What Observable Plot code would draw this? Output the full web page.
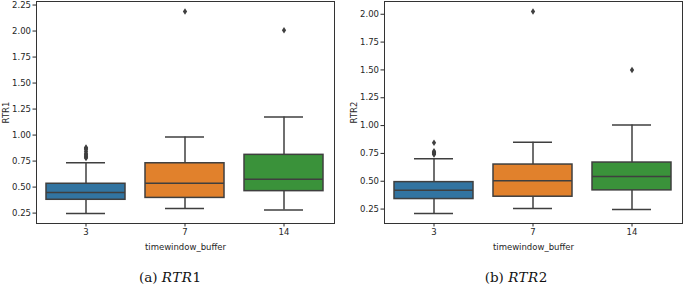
<!DOCTYPE html>
<html>
<head>
<meta charset="utf-8">
<script src="https://cdn.jsdelivr.net/npm/d3@7"></script>
<script src="https://cdn.jsdelivr.net/npm/@observablehq/plot@0.6"></script>
<style>
  html, body { margin: 0; padding: 0; background: #fff; }
  #wrap { position: relative; width: 685px; height: 284px; }
  #panels { display: flex; }
  .cap { position: absolute; top: 269px; font-family: "DejaVu Serif", serif; font-size: 13.5px; color: #111; white-space: nowrap; transform: translateX(-50%); line-height: 16px; }
  .cap i { letter-spacing: 0.5px; }
</style>
</head>
<body>
<div id="wrap">
  <div id="panels"></div>
  <div class="cap" style="left:170px">(a) <i>RTR</i>1</div>
  <div class="cap" style="left:516px">(b) <i>RTR</i>2</div>
</div>
<script>
// ---- data ----
const categories = ["3", "7", "14"];

// RTR1 (left panel)
const rtr1Low    = [0.247, 0.295, 0.279];
const rtr1Q1     = [0.378, 0.396, 0.461];
const rtr1Median = [0.447, 0.538, 0.576];
const rtr1Q3     = [0.532, 0.729, 0.810];
const rtr1High   = [0.733, 0.982, 1.174];
const rtr1OutlierCat = ["3", "3", "3", "3", "3", "3", "3", "3", "3", "7", "14"];
const rtr1OutlierVal = [0.78, 0.79, 0.80, 0.81, 0.82, 0.84, 0.86, 0.87, 0.88, 2.187, 2.008];
const rtr1Ticks = [0.25, 0.5, 0.75, 1.0, 1.25, 1.5, 1.75, 2.0, 2.25];

// RTR2 (right panel)
const rtr2Low    = [0.211, 0.256, 0.247];
const rtr2Q1     = [0.340, 0.361, 0.418];
const rtr2Median = [0.418, 0.504, 0.543];
const rtr2Q3     = [0.492, 0.650, 0.668];
const rtr2High   = [0.702, 0.850, 1.006];
const rtr2OutlierCat = ["3", "3", "3", "3", "3", "3", "7", "14"];
const rtr2OutlierVal = [0.74, 0.75, 0.755, 0.76, 0.77, 0.846, 2.024, 1.499];
const rtr2Ticks = [0.25, 0.5, 0.75, 1.0, 1.25, 1.5, 1.75, 2.0];

const xLabel = "timewindow_buffer";

// ---- styles ----
const palette = ["#3274a1", "#e1812c", "#3a923a"];
const gray = "#3f3f3f";

const thinDiamond = {
  draw(context, size) {
    const r = Math.sqrt(size / Math.PI);
    context.moveTo(0, -r * 1.3);
    context.lineTo(r * 0.85, 0);
    context.lineTo(0, r * 1.3);
    context.lineTo(-r * 0.85, 0);
    context.closePath();
  }
};

function panel({width, marginLeft, marginRight, yLabel, labelOffset, low, q1, median, q3, high, outCat, outVal, ticks}) {
  const rows = categories.map((c, i) => ({cat: c, low: low[i], q1: q1[i], median: median[i], q3: q3[i], high: high[i]}));
  const outs = outCat.map((c, i) => ({cat: c, v: outVal[i]}));
  const all = [...low, ...high, ...outVal];
  const mn = d3.min(all), mx = d3.max(all), pad = (mx - mn) * 0.05;
  return Plot.plot({
    width, height: 256,
    marginLeft, marginRight, marginTop: 1, marginBottom: 33,
    style: {fontFamily: "DejaVu Sans", fontSize: "8.5px", color: "#262626", background: "white", overflow: "visible"},
    x: {type: "band", domain: categories, paddingInner: 0.2, paddingOuter: 0.1},
    y: {domain: [mn - pad, mx + pad]},
    color: {domain: categories, range: palette},
    marks: [
      Plot.ruleX(rows, {x: "cat", y1: "q3", y2: "high", stroke: gray, strokeWidth: 1.5}),
      Plot.ruleX(rows, {x: "cat", y1: "low", y2: "q1", stroke: gray, strokeWidth: 1.5}),
      Plot.barY(rows, {x: "cat", y1: "q1", y2: "q3", fill: "cat", stroke: gray, strokeWidth: 1.5}),
      Plot.tickY(rows, {x: "cat", y: "median", stroke: gray, strokeWidth: 1.5}),
      Plot.tickY(rows, {x: "cat", y: "high", stroke: gray, strokeWidth: 1.5, inset: 20}),
      Plot.tickY(rows, {x: "cat", y: "low", stroke: gray, strokeWidth: 1.5, inset: 20}),
      Plot.dot(outs, {x: "cat", y: "v", r: 2.5, symbol: thinDiamond, fill: gray, stroke: "none"}),
      Plot.frame({stroke: "#333", strokeWidth: 1}),
      Plot.axisY({ticks, tickFormat: d3.format(".2f"), tickSize: 3.5, tickPadding: 2, label: yLabel, labelAnchor: "center", labelArrow: "none", labelOffset}),
      Plot.axisX({tickSize: 3.5, tickPadding: 2, label: xLabel, labelAnchor: "center", labelArrow: "none", labelOffset: 26})
    ]
  });
}

const host = document.getElementById("panels");
host.append(panel({width: 342, marginLeft: 36, marginRight: 8, yLabel: "RTR1", labelOffset: 34,
  low: rtr1Low, q1: rtr1Q1, median: rtr1Median, q3: rtr1Q3, high: rtr1High, outCat: rtr1OutlierCat, outVal: rtr1OutlierVal, ticks: rtr1Ticks}));
host.append(panel({width: 343, marginLeft: 42, marginRight: 3, yLabel: "RTR2", labelOffset: 34,
  low: rtr2Low, q1: rtr2Q1, median: rtr2Median, q3: rtr2Q3, high: rtr2High, outCat: rtr2OutlierCat, outVal: rtr2OutlierVal, ticks: rtr2Ticks}));
</script>
</body>
</html>
